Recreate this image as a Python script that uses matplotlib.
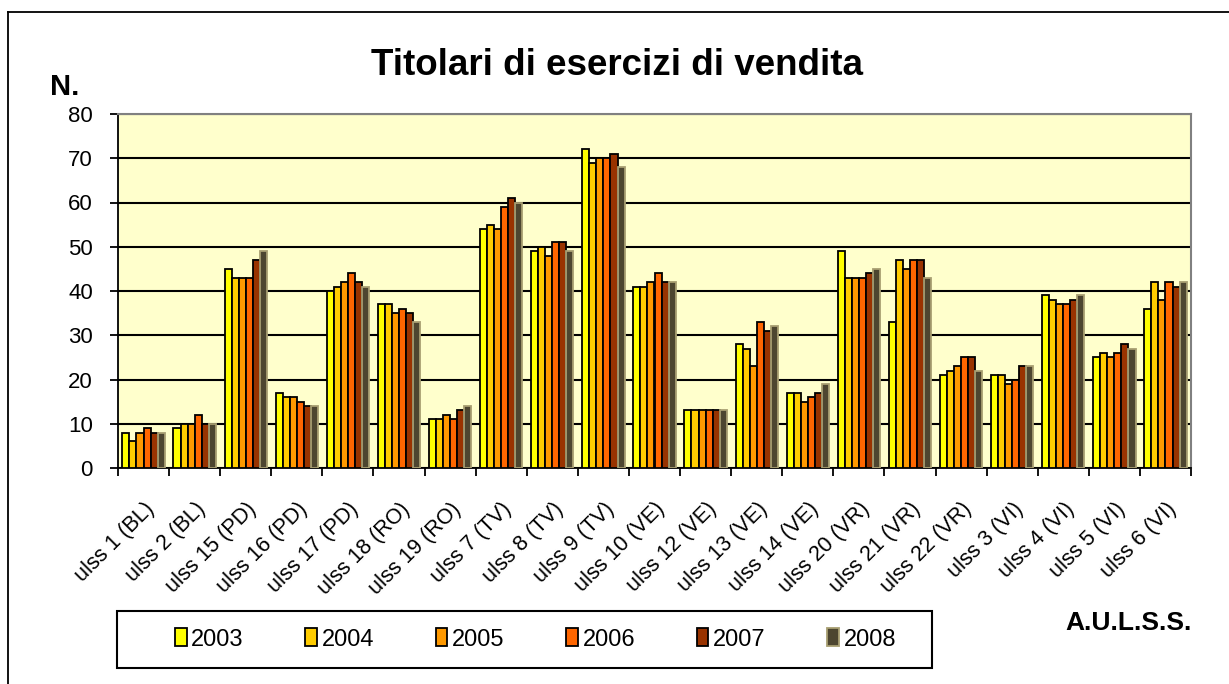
import matplotlib

matplotlib.use("Agg")

import matplotlib.pyplot as plt
import numpy as np
from matplotlib.lines import Line2D
from matplotlib.patches import Rectangle
from matplotlib.ticker import MultipleLocator

plt.rcParams["font.family"] = ["Liberation Sans", "DejaVu Sans"]

ulss = [
    "ulss 1 (BL)", "ulss 2 (BL)", "ulss 15 (PD)", "ulss 16 (PD)", "ulss 17 (PD)",
    "ulss 18 (RO)", "ulss 19 (RO)", "ulss 7 (TV)", "ulss 8 (TV)", "ulss 9 (TV)",
    "ulss 10 (VE)", "ulss 12 (VE)", "ulss 13 (VE)", "ulss 14 (VE)", "ulss 20 (VR)",
    "ulss 21 (VR)", "ulss 22 (VR)", "ulss 3 (VI)", "ulss 4 (VI)", "ulss 5 (VI)",
    "ulss 6 (VI)",
]
anni = ["2003", "2004", "2005", "2006", "2007", "2008"]

v2003 = [8, 9, 45, 17, 40, 37, 11, 54, 49, 72, 41, 13, 28, 17, 49, 33, 21, 21, 39, 25, 36]
v2004 = [6, 10, 43, 16, 41, 37, 11, 55, 50, 69, 41, 13, 27, 17, 43, 47, 22, 21, 38, 26, 42]
v2005 = [8, 10, 43, 16, 42, 35, 12, 54, 48, 70, 42, 13, 23, 15, 43, 45, 23, 19, 37, 25, 38]
v2006 = [9, 12, 43, 15, 44, 36, 11, 59, 51, 70, 44, 13, 33, 16, 43, 47, 25, 20, 37, 26, 42]
v2007 = [8, 10, 47, 14, 42, 35, 13, 61, 51, 71, 42, 13, 31, 17, 44, 47, 25, 23, 38, 28, 41]
v2008 = [8, 10, 49, 14, 41, 33, 14, 60, 49, 68, 42, 13, 32, 19, 45, 43, 22, 23, 39, 27, 42]
serie = [v2003, v2004, v2005, v2006, v2007, v2008]

colori = ["#ffff00", "#ffcc00", "#ff9900", "#ff6600", "#993300", "#4d4630"]
bordi = ["black", "black", "black", "black", "black", "#a89f72"]

W, H = 1229, 684
fig = plt.figure(figsize=(W / 100, H / 100), dpi=100)
ax = fig.add_axes([118 / W, 1 - 468 / H, (1191 - 118) / W, (468 - 114) / H])
ax.set_facecolor("#ffffcc")

x = np.arange(len(ulss))
w = 0.138
for i, (vals, c, e) in enumerate(zip(serie, colori, bordi)):
    ax.bar(x + (i - 2.5) * w, vals, width=w, color=c, edgecolor=e,
           linewidth=1.3, label=anni[i], zorder=3)

ax.set_xlim(-0.5, len(ulss) - 0.5)
ax.set_ylim(0, 80)
ax.yaxis.set_major_locator(MultipleLocator(10))
ax.grid(axis="y", color="black", linewidth=1.5, zorder=1)
ax.set_axisbelow(True)

ax.set_xticks(x)
ax.set_xticklabels(ulss, rotation=45, ha="right", va="top",
                   rotation_mode="anchor", fontsize=15.5)
ax.tick_params(axis="x", length=0, pad=22)
ax.set_xticks(np.arange(len(ulss) + 1) - 0.5, minor=True)
ax.tick_params(axis="x", which="minor", length=6, width=1.3, direction="out")
ax.tick_params(axis="y", labelsize=16, length=6, width=1.3, pad=12)

for s in ["top", "right"]:
    ax.spines[s].set_color("#808080")
    ax.spines[s].set_linewidth(1.5)
for s in ["left", "bottom"]:
    ax.spines[s].set_color("black")
    ax.spines[s].set_linewidth(1.3)

fig.text(617 / W, 1 - 75 / H, "Titolari di esercizi di vendita", ha="center",
         va="baseline", fontsize=26.5, fontweight="bold")
fig.text(50 / W, 1 - 95 / H, "N.", ha="left", va="baseline",
         fontsize=21, fontweight="bold")
fig.text(1192 / W, 1 - 630 / H, "A.U.L.S.S.", ha="right", va="baseline",
         fontsize=19, fontweight="bold")

# cornice esterna
fig.add_artist(Line2D([8 / W, 8 / W], [0, 1 - 12 / H], color="black", linewidth=1.3))
fig.add_artist(Line2D([8 / W, 1], [1 - 12 / H, 1 - 12 / H], color="black", linewidth=1.3))

# riquadro legenda
fig.add_artist(Rectangle((117 / W, 1 - 668 / H), (932 - 117) / W, (668 - 611) / H,
                         transform=fig.transFigure, facecolor="white",
                         edgecolor="black", linewidth=1.5, zorder=1))
leg = fig.legend(loc="center", ncol=6, fontsize=17,
                 bbox_to_anchor=(128 / W, 1 - 668 / H, (932 - 117) / W, (668 - 611) / H),
                 handlelength=0.5, handleheight=0.8, handletextpad=0.2,
                 columnspacing=2.6, borderaxespad=0, frameon=False)
leg.set_zorder(2)

fig.savefig("out.png", dpi=100)
